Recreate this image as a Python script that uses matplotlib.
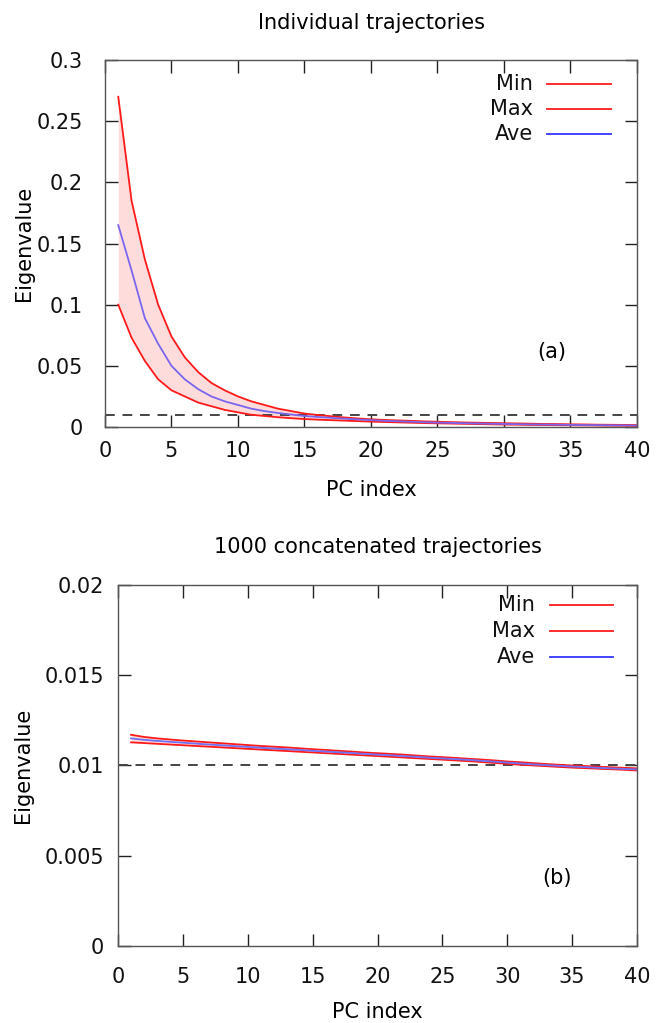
#!/usr/bin/env python
"""Eigenvalue spectra of PCs: individual vs concatenated trajectories."""

import numpy as np
import matplotlib
matplotlib.use("Agg")
import matplotlib.pyplot as plt

### Data
pc_index = list(range(1, 41))

max_top = [0.270, 0.185, 0.137, 0.100, 0.074, 0.057, 0.045, 0.036, 0.030, 0.025,
           0.021, 0.018, 0.015, 0.013, 0.011, 0.0098, 0.0088, 0.0078, 0.0070, 0.0063,
           0.0058, 0.0054, 0.0050, 0.0046, 0.0043, 0.0040, 0.0037, 0.0035, 0.0033, 0.0031,
           0.0029, 0.0027, 0.0025, 0.0024, 0.0022, 0.0021, 0.0019, 0.0018, 0.0017, 0.0016]
min_top = [0.100, 0.073, 0.054, 0.039, 0.030, 0.025, 0.020, 0.017, 0.014, 0.012,
           0.010, 0.0090, 0.0080, 0.0072, 0.0065, 0.0060, 0.0056, 0.0052, 0.0048, 0.0044,
           0.0041, 0.0038, 0.0035, 0.0032, 0.0030, 0.0028, 0.0026, 0.0024, 0.0022, 0.0020,
           0.0019, 0.0017, 0.0016, 0.0015, 0.0014, 0.0013, 0.0012, 0.0011, 0.0010, 0.0009]
ave_top = [0.165, 0.128, 0.089, 0.068, 0.050, 0.039, 0.031, 0.025, 0.021, 0.018,
           0.015, 0.013, 0.0115, 0.0102, 0.0090, 0.0082, 0.0075, 0.0068, 0.0062, 0.0056,
           0.0051, 0.0047, 0.0043, 0.0039, 0.0036, 0.0034, 0.0031, 0.0029, 0.0027, 0.0025,
           0.0023, 0.0021, 0.0020, 0.0019, 0.0017, 0.0016, 0.0015, 0.0014, 0.0013, 0.0012]

max_bot = [0.01170, 0.01158, 0.01150, 0.01144, 0.01138, 0.01133, 0.01128, 0.01123, 0.01118, 0.01113,
           0.01108, 0.01104, 0.01100, 0.01095, 0.01090, 0.01086, 0.01081, 0.01077, 0.01072, 0.01068,
           0.01064, 0.01060, 0.01055, 0.01050, 0.01046, 0.01042, 0.01037, 0.01033, 0.01028, 0.01022,
           0.01018, 0.01013, 0.01008, 0.01004, 0.01000, 0.00997, 0.00993, 0.00990, 0.00987, 0.00984]
min_bot = [0.01128, 0.01124, 0.01120, 0.01116, 0.01112, 0.01108, 0.01104, 0.01100, 0.01096, 0.01092,
           0.01088, 0.01084, 0.01080, 0.01076, 0.01072, 0.01068, 0.01064, 0.01060, 0.01056, 0.01052,
           0.01048, 0.01044, 0.01040, 0.01036, 0.01032, 0.01028, 0.01024, 0.01019, 0.01014, 0.01009,
           0.01004, 0.01000, 0.00996, 0.00992, 0.00988, 0.00985, 0.00982, 0.00979, 0.00976, 0.00972]
ave_bot = [0.01150, 0.01142, 0.01136, 0.01131, 0.01126, 0.01121, 0.01116, 0.01112, 0.01107, 0.01103,
           0.01098, 0.01094, 0.01090, 0.01086, 0.01081, 0.01077, 0.01073, 0.01069, 0.01064, 0.01060,
           0.01056, 0.01052, 0.01048, 0.01043, 0.01039, 0.01035, 0.01031, 0.01026, 0.01021, 0.01016,
           0.01011, 0.01006, 0.01002, 0.00998, 0.00994, 0.00991, 0.00987, 0.00984, 0.00981, 0.00978]

threshold = 0.01
legend_names = ['Min', 'Max', 'Ave']

xticks = np.arange(0, 41, 5)
yticks_top = [0, 0.05, 0.1, 0.15, 0.2, 0.25, 0.3]
ytick_labels_top = ['0', '0.05', '0.1', '0.15', '0.2', '0.25', '0.3']
yticks_bot = [0, 0.005, 0.01, 0.015, 0.02]
ytick_labels_bot = ['0', '0.005', '0.01', '0.015', '0.02']

RED = '#ff1a1a'
BLUE = '#3535ff'
FILL = '#ffdcdc'
FRAME = '#555555'
FS = 15

plt.rcParams['font.family'] = 'DejaVu Sans'


def style_axes(ax, yticks, ylabels, ypad, xpad):
    ax.set_xlim(0, 40)
    ax.set_xticks(xticks)
    ax.set_xticklabels([str(t) for t in xticks])
    ax.set_yticks(yticks)
    ax.set_yticklabels(ylabels)
    ax.set_ylim(yticks[0], yticks[-1])
    for sp in ax.spines.values():
        sp.set_color(FRAME)
        sp.set_linewidth(1.0)
    ax.tick_params(axis='both', direction='in', length=9, width=1.0, color='#222222',
                   top=True, right=True, labelsize=FS, labelcolor='#111111')
    ax.tick_params(axis='y', pad=ypad)
    ax.tick_params(axis='x', pad=xpad)


def draw_legend(ax, tx, x0, x1, ys, colors):
    for name, y, c in zip(legend_names, ys, colors):
        ax.text(tx, y, name, transform=ax.transAxes, ha='right', va='center',
                fontsize=FS, color='#111111')
        ax.plot([x0, x1], [y, y], transform=ax.transAxes, color=c, lw=1.3,
                clip_on=False)


fig = plt.figure(figsize=(6.56, 10.23), dpi=100)

### (a) individual trajectories
ax1 = fig.add_axes([0.160, 0.5826, 0.811, 0.3587])
ax1.fill_between(pc_index, min_top, max_top, color=FILL, lw=0)
ax1.axhline(threshold, color='#444444', lw=1.4, ls=(0, (5, 4)))
ax1.plot(pc_index, min_top, color=RED, lw=1.3)
ax1.plot(pc_index, max_top, color=RED, lw=1.3)
ax1.plot(pc_index, ave_top, color='#7a66ee', lw=1.3)
style_axes(ax1, yticks_top, ytick_labels_top, 16, 10)
draw_legend(ax1, 0.804, 0.831, 0.951, [0.935, 0.866, 0.798], [RED, RED, BLUE])
ax1.text(0.840, 0.204, '(a)', transform=ax1.transAxes, ha='center', va='center',
         fontsize=FS)
ax1.set_xlabel('PC index', fontsize=FS, labelpad=14)
ax1.set_ylabel('Eigenvalue', fontsize=FS, labelpad=2)
fig.text(0.566, 0.978, 'Individual trajectories', ha='center', va='center', fontsize=FS)

### (b) 1000 concatenated trajectories
ax2 = fig.add_axes([0.180, 0.0753, 0.791, 0.3529])
ax2.fill_between(pc_index, min_bot, max_bot, color=FILL, lw=0)
ax2.axhline(threshold, color='#444444', lw=1.4, ls=(0, (5, 4)))
ax2.plot(pc_index, min_bot, color=RED, lw=1.3)
ax2.plot(pc_index, max_bot, color=RED, lw=1.3)
ax2.plot(pc_index, ave_bot, color='#7070f5', lw=1.3)
style_axes(ax2, yticks_bot, ytick_labels_bot, 10, 15)
draw_legend(ax2, 0.8035, 0.832, 0.954, [0.945, 0.873, 0.801], [RED, RED, BLUE])
ax2.text(0.846, 0.188, '(b)', transform=ax2.transAxes, ha='center', va='center',
         fontsize=FS)
ax2.set_xlabel('PC index', fontsize=FS, labelpad=11)
ax2.set_ylabel('Eigenvalue', fontsize=FS, labelpad=8)
fig.text(0.576, 0.465, '1000 concatenated trajectories', ha='center', va='center',
         fontsize=FS)

plt.savefig('out.png', dpi=100)
